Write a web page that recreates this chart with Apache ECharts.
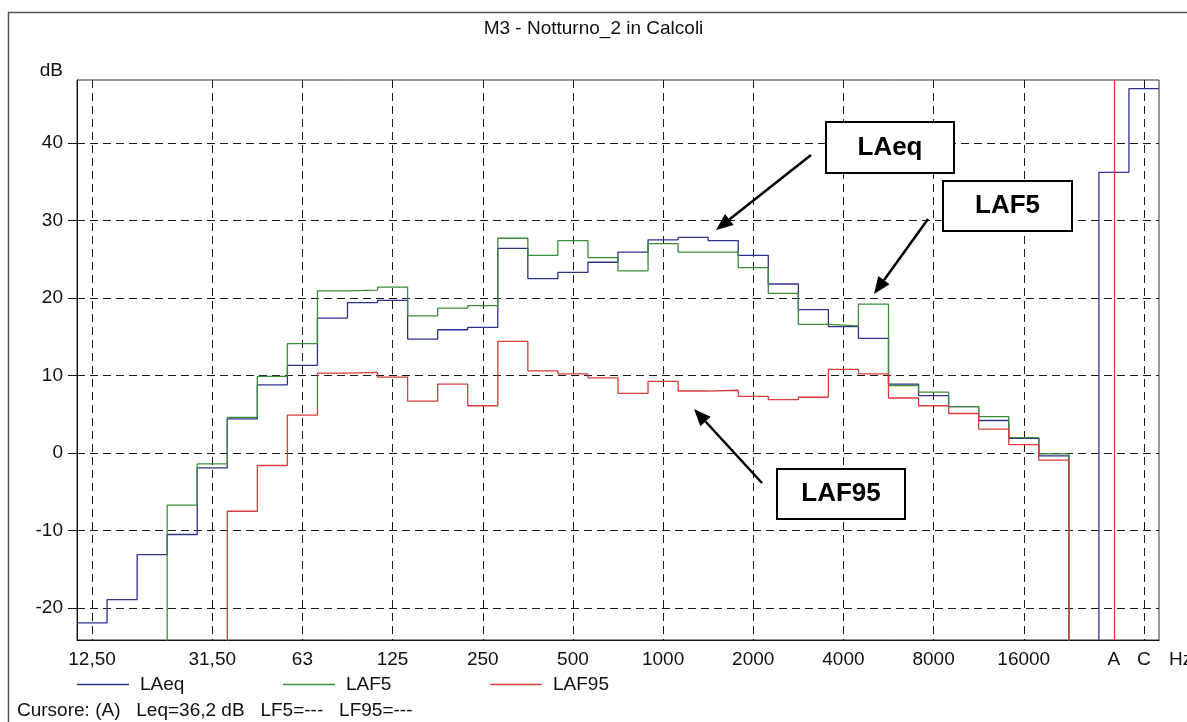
<!DOCTYPE html>
<html>
<head>
<meta charset="utf-8">
<title>M3 - Notturno_2 in Calcoli</title>
<script src="https://cdn.jsdelivr.net/npm/echarts@6/dist/echarts.min.js"></script>
<style>
  html, body { margin: 0; padding: 0; background: #fff; }
  #chart { width: 1187px; height: 722px; }
</style>
</head>
<body>
<div id="chart"></div>
<script>
// Third-octave bands 12.5 Hz .. 20 kHz, an empty slot, then the A and C totals
const bands = ['12,50','16','20','25','31,50','40','50','63','80','100','125','160','200',
  '250','315','400','500','630','800','1000','1250','1600','2000','2500','3150','4000',
  '5000','6300','8000','10000','12500','16000','20000','','A','C'];

// Bands that carry a label and a vertical grid line
const tickLabels = ['12,50','31,50','63','125','250','500','1000','2000','4000','8000','16000','A','C'];

// Levels in dB per band (null = no value)
const laeq = [-21.9,-18.9,-13.1,-10.5,-1.9,4.4,8.8,11.3,17.4,19.4,19.7,14.7,15.9,16.2,
  26.4,22.5,23.3,24.6,25.9,27.5,27.8,27.4,25.5,21.8,18.5,16.3,14.8,8.9,7.4,6.0,4.2,1.9,-0.35,
  null,36.2,47.0];
const laf5 = [null,null,null,-6.7,-1.4,4.6,9.9,14.1,20.9,21.0,21.4,17.7,18.7,19.0,
  27.7,25.5,27.4,25.2,23.5,27.0,25.9,25.9,23.9,20.6,16.6,16.4,19.2,8.7,7.85,6.0,4.7,2.0,-0.1,
  null,null,null];
const laf95 = [null,null,null,null,null,-7.5,-1.6,4.9,10.3,10.4,9.8,6.7,8.9,6.1,
  14.4,10.6,10.2,9.7,7.7,9.25,8.0,8.1,7.3,6.9,7.2,10.8,10.2,7.1,6.1,5.1,3.1,1.1,-0.9,
  null,null,null];

const yTicks = [-20, -10, 0, 10, 20, 30, 40];

const cursorBand = 'A';
const FONT = '"Liberation Sans", Arial, sans-serif';
const FS = 19;

// Each band becomes a flat step across its full width; the trace falls
// off the bottom of the plot wherever a band has no value.
function stepPoints(vals) {
  const pts = [];
  const FLOOR = -1000;
  vals.forEach((v, i) => {
    if (v == null) return;
    const prev = i > 0 ? vals[i - 1] : null;
    const next = i < vals.length - 1 ? vals[i + 1] : null;
    if (i > 0 && prev == null) pts.push([i - 0.5, FLOOR]);
    pts.push([i - 0.5, v], [i + 0.5, v]);
    if (i < vals.length - 1 && next == null) pts.push([i + 0.5, FLOOR]);
  });
  return pts;
}

const tickIdx = tickLabels.map(l => bands.indexOf(l));
const cursorIdx = bands.indexOf(cursorBand);
const fmt1 = v => v == null ? '---' : v.toFixed(1).replace('.', ',');
const cursorText = 'Cursore: (' + cursorBand + ')   Leq=' + fmt1(laeq[cursorIdx]) +
  ' dB   LF5=' + fmt1(laf5[cursorIdx]) + '   LF95=' + fmt1(laf95[cursorIdx]);

const dashed = { type: [8, 5], color: '#1a1a1a', width: 1 };

// Call-out box with an arrow pointing at a trace
function callout(text, box, from, to) {
  const dx = to[0] - from[0], dy = to[1] - from[1];
  const len = Math.hypot(dx, dy), ux = dx / len, uy = dy / len;
  const hl = 17, hw = 7;
  const bx = to[0] - ux * hl, by = to[1] - uy * hl;
  return [
    { type: 'rect', shape: { x: box[0], y: box[1], width: box[2], height: box[3] },
      style: { fill: '#fff', stroke: '#000', lineWidth: 2 }, z: 100 },
    { type: 'text', x: box[0] + box[2] / 2, y: box[1] + box[3] / 2,
      style: { text: text, font: 'bold 26px ' + FONT, fill: '#000',
               textAlign: 'center', textVerticalAlign: 'middle' }, z: 101 },
    { type: 'line', shape: { x1: from[0], y1: from[1], x2: bx, y2: by },
      style: { stroke: '#000', lineWidth: 2.5 }, z: 100 },
    { type: 'polygon', shape: { points: [to, [bx - uy * hw, by + ux * hw], [bx + uy * hw, by - ux * hw]] },
      style: { fill: '#000' }, z: 100 }
  ];
}

const colors = { laeq: '#30308f', laf5: '#3b8c3b', laf95: '#d83c3c' };

function lineSeries(name, vals, color) {
  return {
    name: name, type: 'line', data: stepPoints(vals), symbol: 'none',
    lineStyle: { color: color, width: 1.3 }, itemStyle: { color: color },
    clip: true, silent: true
  };
}

const series = [
  lineSeries('LAeq', laeq, colors.laeq),
  lineSeries('LAF5', laf5, colors.laf5),
  lineSeries('LAF95', laf95, colors.laf95)
];
// Cursor on the selected band
series[2].markLine = {
  silent: true, symbol: 'none', label: { show: false },
  lineStyle: { color: colors.laf95, type: 'solid', width: 1.3 },
  data: [{ xAxis: cursorIdx }]
};

function legendAt(name, left) {
  return {
    data: [name], left: left, top: 675, padding: 0, icon: 'rect',
    itemWidth: 52, itemHeight: 1.3, selectedMode: false,
    textStyle: { fontSize: FS, color: '#111', fontFamily: FONT, padding: [0, 0, 0, 6] }
  };
}

const option = {
  animation: false,
  backgroundColor: '#fff',
  title: {
    text: 'M3 - Notturno_2 in Calcoli', left: 'center', top: 14,
    textStyle: { fontSize: FS, fontWeight: 'normal', color: '#111', fontFamily: FONT }
  },
  legend: [legendAt('LAeq', 77), legendAt('LAF5', 283), legendAt('LAF95', 490)],
  grid: { left: 77, top: 80, width: 1082, height: 560, show: true,
          borderColor: '#333', borderWidth: 1, containLabel: false },
  xAxis: {
    type: 'value', min: -0.5, max: bands.length - 0.5,
    axisLine: { show: true, onZero: false, lineStyle: { color: '#111', width: 1 } },
    axisTick: { show: false, customValues: tickIdx },
    axisLabel: { customValues: tickIdx, margin: 10, fontSize: FS, color: '#111', fontFamily: FONT,
                 formatter: v => bands[Math.round(v)] },
    splitLine: { show: true, lineStyle: dashed }
  },
  yAxis: {
    type: 'value', min: -24.1, max: 48.1,
    axisLine: { show: true, onZero: false, lineStyle: { color: '#111', width: 1 } },
    axisTick: { show: true, length: 9, customValues: yTicks, lineStyle: { color: '#111' } },
    axisLabel: { customValues: yTicks, margin: 14, fontSize: FS, color: '#111', fontFamily: FONT },
    splitLine: { show: true, lineStyle: dashed }
  },
  series: series,
  graphic: [
    { type: 'rect', shape: { x: 8.5, y: 12.5, width: 1300, height: 800 },
      style: { fill: 'none', stroke: '#555', lineWidth: 1.5 }, z: -10, silent: true },
    { type: 'text', x: 63, y: 71, style: { text: 'dB', font: FS + 'px ' + FONT, fill: '#111',
      textAlign: 'right', textVerticalAlign: 'middle' } },
    { type: 'text', x: 1169, y: 660, style: { text: 'Hz', font: FS + 'px ' + FONT, fill: '#111',
      textAlign: 'left', textVerticalAlign: 'middle' } },
    { type: 'text', x: 17, y: 711, style: { text: cursorText, font: FS + 'px ' + FONT, fill: '#111',
      textAlign: 'left', textVerticalAlign: 'middle' } }
  ]
    .concat(callout('LAeq', [826, 122, 128, 51], [811, 155], [716, 230]))
    .concat(callout('LAF5', [943, 181, 129, 50], [928, 219], [874, 294]))
    .concat(callout('LAF95', [777, 469, 128, 50], [762, 483], [694, 409]))
};

const chart = echarts.init(document.getElementById('chart'), null, { renderer: 'canvas' });
chart.setOption(option);
</script>
</body>
</html>
